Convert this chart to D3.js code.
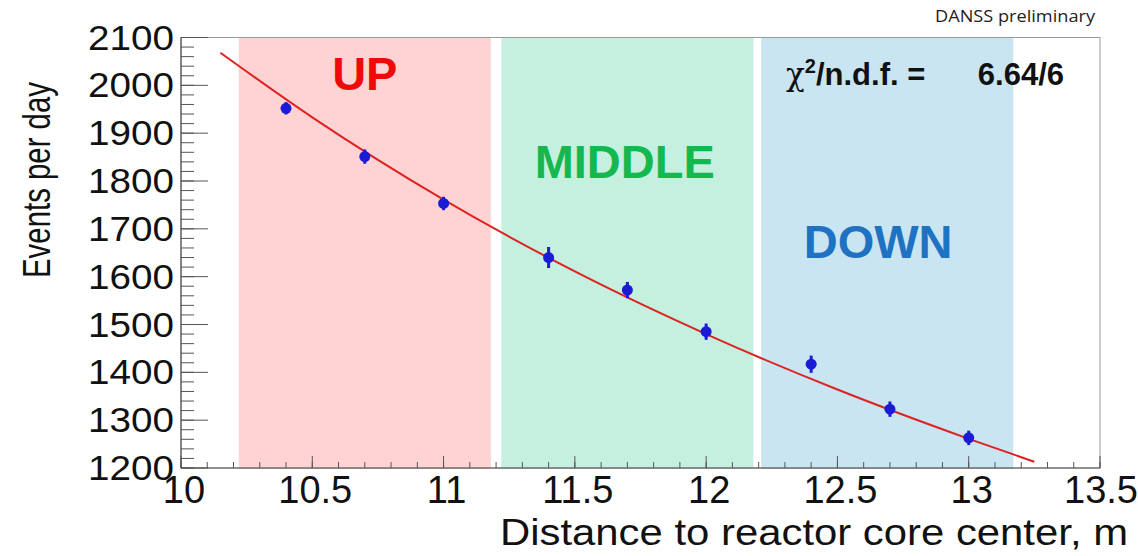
<!DOCTYPE html>
<html>
<head>
<meta charset="utf-8">
<script src="https://cdn.jsdelivr.net/npm/d3@7"></script>
<style>
  body { margin: 0; background: #fff; }
  svg { display: block; font-family: "Liberation Sans", Arial, sans-serif; }
</style>
</head>
<body>
<svg id="chart" width="1138" height="556"></svg>
<script>
// measured points (distance in m, events per day, error)
var distance = [10.4, 10.7, 11.0, 11.4, 11.7, 12.0, 12.4, 12.7, 13.0];
var events   = [1952, 1851, 1753, 1640, 1572, 1485, 1417, 1323, 1263];
var errors   = [13, 15, 14, 22, 17, 17, 18, 16, 15];

// fit curve
var fitDistance = [10.15, 10.5, 11.0, 11.5, 12.0, 12.5, 13.0, 13.25];
var fitEvents   = [2068, 1933, 1761, 1611, 1480, 1364, 1261, 1213];

// detector positions
var bandNames  = ["UP", "MIDDLE", "DOWN"];
var bandStart  = [10.22, 11.22, 12.21];
var bandEnd    = [11.18, 12.18, 13.17];
var bandLabelX = [10.70, 11.69, 12.655];
var bandLabelY = [1990, 1806, 1639];

var xTicks = [10, 10.5, 11, 11.5, 12, 12.5, 13, 13.5];
var yTicks = [1200, 1300, 1400, 1500, 1600, 1700, 1800, 1900, 2000, 2100];

var COLORS = {
    band: ["#ffd3d3", "#c5f0df", "#c9e5f2"],
    label: ["#ee0a0a", "#14b84f", "#1f72c2"],
    fit: "#dd2222",
    point: "#1b1bd6",
    axis: "#555"
};

var svg = d3.select("#chart");
var x = d3.scaleLinear().domain([10, 13.5]).range([181, 1100]);
var y = d3.scaleLinear().domain([1200, 2100]).range([468, 37.5]);

// bands
var bands = svg.append("g").attr("class", "bands");
bandNames.forEach(function (name, i) {
    bands.append("rect")
        .attr("x", x(bandStart[i]))
        .attr("y", y(2100))
        .attr("width", x(bandEnd[i]) - x(bandStart[i]))
        .attr("height", y(1200) - y(2100) + 1)
        .attr("fill", COLORS.band[i]);
    bands.append("text")
        .attr("x", x(bandLabelX[i]))
        .attr("y", y(bandLabelY[i]))
        .attr("text-anchor", "middle")
        .style("font-size", "47px")
        .style("font-weight", "bold")
        .attr("fill", COLORS.label[i])
        .text(name);
});

// frame
svg.append("rect")
    .attr("x", x(10)).attr("y", y(2100))
    .attr("width", x(13.5) - x(10)).attr("height", y(1200) - y(2100))
    .attr("fill", "none").attr("stroke", "#999").attr("stroke-width", 1);

// axes with inward ticks
var xMinor = d3.range(0, 36).map(function (d) { return 10 + d * 0.1; });
var yMinor = d3.range(0, 46).map(function (d) { return 1200 + d * 20; });

var xAxisG = svg.append("g").attr("class", "x-axis");
xAxisG.append("line")
    .attr("x1", x(10)).attr("x2", x(13.5)).attr("y1", y(1200)).attr("y2", y(1200))
    .attr("stroke", COLORS.axis).attr("stroke-width", 1.2);
xAxisG.selectAll(".minor").data(xMinor).enter().append("line")
    .attr("x1", function (d) { return x(d); }).attr("x2", function (d) { return x(d); })
    .attr("y1", y(1200)).attr("y2", y(1200) - 6)
    .attr("stroke", COLORS.axis);
xAxisG.selectAll(".major").data(xTicks).enter().append("line")
    .attr("x1", function (d) { return x(d); }).attr("x2", function (d) { return x(d); })
    .attr("y1", y(1200)).attr("y2", y(1200) - 12)
    .attr("stroke", COLORS.axis);
xAxisG.selectAll("text").data(xTicks).enter().append("text")
    .attr("x", function (d) { return Math.min(x(d) + 3, 1101); })
    .attr("y", 503)
    .attr("text-anchor", "middle")
    .style("font-size", "38px")
    .attr("fill", "#111")
    .text(function (d) { return d; });

var yAxisG = svg.append("g").attr("class", "y-axis");
yAxisG.append("line")
    .attr("x1", x(10)).attr("x2", x(10)).attr("y1", y(1200)).attr("y2", y(2100))
    .attr("stroke", COLORS.axis).attr("stroke-width", 1.2);
yAxisG.selectAll(".minor").data(yMinor).enter().append("line")
    .attr("x1", x(10)).attr("x2", x(10) + 13)
    .attr("y1", function (d) { return y(d); }).attr("y2", function (d) { return y(d); })
    .attr("stroke", COLORS.axis);
yAxisG.selectAll(".major").data(yTicks).enter().append("line")
    .attr("x1", x(10)).attr("x2", x(10) + 27)
    .attr("y1", function (d) { return y(d); }).attr("y2", function (d) { return y(d); })
    .attr("stroke", COLORS.axis);
yAxisG.selectAll("text").data(yTicks).enter().append("text")
    .attr("x", 174)
    .attr("y", function (d) { return y(d) + 12; })
    .attr("text-anchor", "end")
    .attr("textLength", 86).attr("lengthAdjust", "spacingAndGlyphs")
    .style("font-size", "35px")
    .attr("fill", "#111")
    .text(function (d) { return d; });

// axis titles
svg.append("text")
    .attr("transform", "translate(50,180) rotate(-90)")
    .attr("text-anchor", "middle")
    .attr("textLength", 196).attr("lengthAdjust", "spacingAndGlyphs")
    .style("font-size", "38px")
    .attr("fill", "#111")
    .text("Events per day");
svg.append("text")
    .attr("x", 500).attr("y", 545)
    .attr("textLength", 628).attr("lengthAdjust", "spacingAndGlyphs")
    .style("font-size", "36px")
    .attr("fill", "#111")
    .text("Distance to reactor core center, m");

// fit line
var fitData = fitDistance.map(function (d, i) { return [d, fitEvents[i]]; });
svg.append("path")
    .datum(fitData)
    .attr("d", d3.line()
        .x(function (d) { return x(d[0]); })
        .y(function (d) { return y(d[1]); })
        .curve(d3.curveMonotoneX))
    .attr("fill", "none")
    .attr("stroke", COLORS.fit)
    .attr("stroke-width", 2);

// data points with error bars
var pts = svg.append("g").attr("class", "points");
distance.forEach(function (d, i) {
    pts.append("line")
        .attr("x1", x(d)).attr("x2", x(d))
        .attr("y1", y(events[i] - errors[i])).attr("y2", y(events[i] + errors[i]))
        .attr("stroke", COLORS.point).attr("stroke-width", 3);
    pts.append("circle")
        .attr("cx", x(d)).attr("cy", y(events[i]))
        .attr("r", 5.5)
        .attr("fill", COLORS.point);
});

// fit quality and label
var chi = svg.append("text")
    .attr("x", 786).attr("y", 85)
    .style("font-size", "31px")
    .attr("fill", "#111");
chi.append("tspan").style("font-family", "'DejaVu Serif', serif").text("χ");
chi.append("tspan").attr("dy", -12).style("font-size", "20px").style("font-weight", "bold").text("2");
chi.append("tspan").attr("dy", 12).style("font-weight", "bold").text("/n.d.f. =");
svg.append("text")
    .attr("x", 1064).attr("y", 85)
    .attr("text-anchor", "end")
    .style("font-size", "31px")
    .style("font-weight", "bold")
    .attr("fill", "#111")
    .text("6.64/6");

svg.append("text")
    .attr("x", 935).attr("y", 22)
    .attr("textLength", 160).attr("lengthAdjust", "spacingAndGlyphs")
    .style("font-family", "'Open Sans', sans-serif")
    .style("font-size", "17px")
    .attr("fill", "#222")
    .text("DANSS preliminary");
</script>
</body>
</html>
